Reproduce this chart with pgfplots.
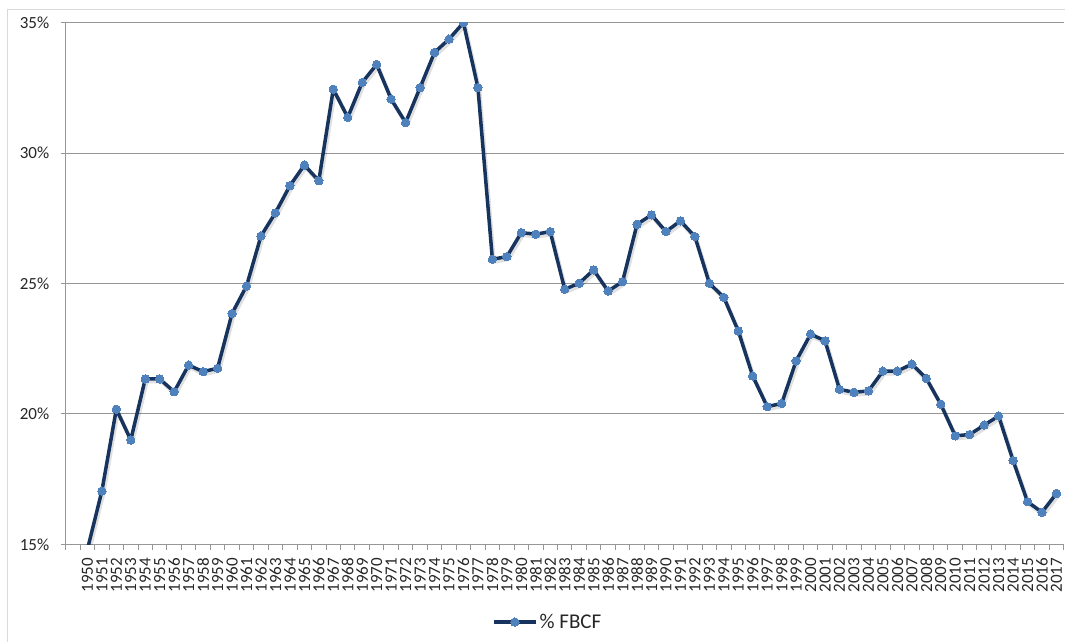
\documentclass[border=0pt]{standalone}
\usepackage{fontspec}
\setmainfont{Carlito}
\usepackage{pgfplots}
\pgfplotsset{compat=1.18}
\usepackage{pgfplotstable}

\definecolor{linenavy}{RGB}{23,52,94}
\definecolor{markblue}{RGB}{79,129,189}
\definecolor{gridgray}{RGB}{150,150,150}
\definecolor{framegray}{RGB}{217,217,217}

\pgfplotstableread{
year fbcf
1950 14.8
1951 17.04
1952 20.18
1953 19.0
1954 21.34
1955 21.34
1956 20.85
1957 21.87
1958 21.62
1959 21.75
1960 23.85
1961 24.9
1962 26.82
1963 27.71
1964 28.75
1965 29.54
1966 28.94
1967 32.45
1968 31.37
1969 32.71
1970 33.4
1971 32.07
1972 31.17
1973 32.51
1974 33.86
1975 34.37
1976 35.0
1977 32.51
1978 25.93
1979 26.03
1980 26.95
1981 26.89
1982 26.99
1983 24.78
1984 25.01
1985 25.52
1986 24.71
1987 25.07
1988 27.27
1989 27.63
1990 26.99
1991 27.4
1992 26.8
1993 25.01
1994 24.47
1995 23.18
1996 21.45
1997 20.28
1998 20.4
1999 22.03
2000 23.06
2001 22.8
2002 20.94
2003 20.83
2004 20.88
2005 21.64
2006 21.64
2007 21.91
2008 21.36
2009 20.37
2010 19.16
2011 19.21
2012 19.57
2013 19.92
2014 18.21
2015 16.63
2016 16.23
2017 16.95
}\fbcfdata

\begin{document}
\begin{tikzpicture}
% x is plotted as year-1949 (1950 -> 1, 2017 -> 68); an empty slot sits at 0
\begin{axis}[
    at={(65.7pt,96.7pt)}, anchor=south west,
    scale only axis,
    width=998pt, height=521.6pt,
    xmin=-0.5, xmax=68.5,
    ymin=15, ymax=35,
    axis x line=bottom, axis y line=left,
    axis line style={gridgray, line width=1pt, -},
    ytick={15,20,25,30,35},
    yticklabel={\pgfmathprintnumber{\tick}\%},
    ymajorgrids,
    grid style={gridgray, line width=1pt},
    tick align=outside,
    major tick length=5pt,
    tick style={gridgray, line width=1pt},
    yticklabel style={font=\fontsize{17}{20}\selectfont, text=black!85, xshift=-8pt},
    xtick={1,...,68},
    xticklabel={\pgfmathparse{int(round(\tick)+1949)}\pgfmathresult},
    xtick style={draw=none},
    xticklabel style={font=\fontsize{17}{20}\selectfont, text=black!85, rotate=90, anchor=east, xshift=-5pt},
    extra x ticks={-0.5,0.5,...,68.5},
    extra x tick labels={},
    extra x tick style={xtick style={draw=gridgray, line width=1pt}, major tick length=6pt, grid=none},
    /pgf/number format/assume math mode=true,
    clip marker paths=true,
    legend style={at={(0.483,-0.149)}, anchor=center, draw=none, fill=none,
        font=\fontsize{21}{24}\selectfont, text=black!85},
    legend image code/.code={\draw[mark repeat=2,mark phase=2,#1] plot coordinates {(0pt,0pt) (21pt,0pt) (42pt,0pt)};},
]
% soft shadow under the line
\addplot[black, opacity=0.12, line width=4pt, line join=round, no marks,
    forget plot, shift={(1.5pt,-2.5pt)}] table[x expr=\thisrow{year}-1949, y=fbcf] {\fbcfdata};
\addplot[linenavy, line width=3.5pt, line join=round, mark=*, mark size=4.2pt,
    mark options={fill=markblue, draw=markblue, line width=0pt}]
    table[x expr=\thisrow{year}-1949, y=fbcf] {\fbcfdata};
\legend{\% FBCF}
\end{axis}
\draw[framegray, line width=1pt] (7pt,-10pt) -- (7pt,631pt) -- (1090pt,631pt);
\pgfresetboundingbox
\useasboundingbox (0pt,0pt) rectangle (1065pt,641pt);
\end{tikzpicture}
\end{document}
